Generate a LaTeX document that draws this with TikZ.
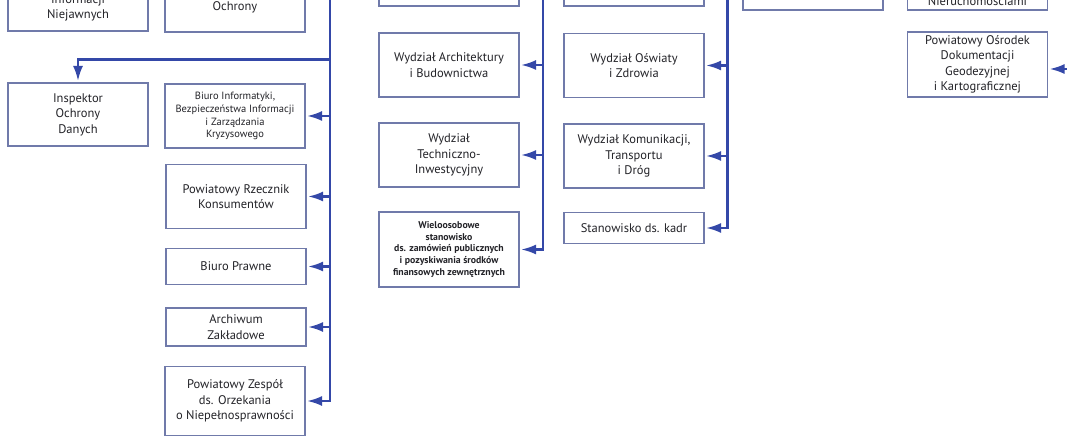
\documentclass[tikz,border=0pt]{standalone}
\usepackage{fontspec}
\setmainfont{PT Sans}
\usetikzlibrary{arrows.meta}
\definecolor{linkblue}{RGB}{52,72,168}
\definecolor{boxline}{RGB}{112,122,170}
\definecolor{boxtext}{RGB}{35,35,40}
\tikzset{
  unit/.style={draw=boxline, line width=1.1pt, fill=white, text=boxtext,
    minimum width=140pt, inner sep=0pt, align=center, font=\fontsize{12.5}{15.5}\selectfont},
  smallunit/.style={unit, font=\fontsize{10.5}{12.8}\selectfont},
  tinyunit/.style={unit, font=\bfseries\fontsize{9.8}{11.8}\selectfont},
  link/.style={draw=linkblue, line width=2.3pt, -{Latex[length=15pt,width=10pt]}, shorten >=1.5pt},
}
\begin{document}
\begin{tikzpicture}[x=1pt, y=-1pt]
	\useasboundingbox[fill=white] (0,0) rectangle (1067,438);
	\clip (0,0) rectangle (1067,438);
	% left column
	\node[unit, minimum height=46pt] (inf) at (78,8) {Informacji\\Niejawnych};
	\node[unit, minimum height=50pt] (och) at (235,7) {Ochrony};
	\node[unit, minimum height=63pt] (iod) at (78,114.5) {Inspektor\\Ochrony\\Danych};
	\node[smallunit, minimum height=64pt] (bizk) at (235,116) {Biuro Informatyki,\\Bezpieczeństwa Informacji\\i Zarządzania\\Kryzysowego};
	\node[unit, minimum height=64pt] (prk) at (236,196.5) {Powiatowy Rzecznik\\Konsumentów};
	\node[unit, minimum height=36pt] (bp) at (236,266.5) {Biuro Prawne};
	\node[unit, minimum height=38pt] (az) at (236,327) {Archiwum\\Zakładowe};
	\node[unit, minimum height=69pt] (pzo) at (235,401) {Powiatowy Zespół\\ds. Orzekania\\o Niepełnosprawności};
	% middle columns
	\node[unit, minimum height=52pt] (wa) at (449,-20) {};
	\node[unit, minimum height=64pt] (wab) at (449,65) {Wydział Architektury\\i Budownictwa};
	\node[unit, minimum height=64pt] (wti) at (449,155) {Wydział\\Techniczno-\\Inwestycyjny};
	\node[tinyunit, minimum height=75pt] (wzp) at (449,249.5) {Wieloosobowe\\stanowisko\\ds. zamówień publicznych\\i pozyskiwania środków\\finansowych zewnętrznych};
	\node[unit, minimum height=52pt] (wb) at (634,-20) {};
	\node[unit, minimum height=64pt] (woz) at (634,65.5) {Wydział Oświaty\\i Zdrowia};
	\node[unit, minimum height=64pt] (wkt) at (634,156) {Wydział Komunikacji,\\Transportu\\i Dróg};
	\node[unit, minimum height=31pt] (kadr) at (634,228) {Stanowisko ds. kadr};
	% right side
	\node[unit, minimum height=50pt] (wc) at (813,-15) {};
	\node[unit, minimum height=18pt] (gn) at (977.5,1) {Nieruchomościami};
	\node[unit, minimum height=65pt] (pod) at (977.5,64.5) {Powiatowy Ośrodek\\Dokumentacji\\Geodezyjnej\\i Kartograficznej};
	% connectors
	\coordinate (ta) at (330,-5);
	\coordinate (ja) at (330,59.5);
	\coordinate (tb) at (543,-5);
	\coordinate (tc) at (727.5,-5);
	\coordinate (tr) at (1075,69);
	\draw[link] (ta) |- (pzo.east);
	\draw[link] (ja) -| (iod.north);
	\foreach \n in {bizk,prk,bp,az}
		\draw[link] (\n.east -| ta) -- (\n.east);
	\draw[link] (tb) |- (wzp.east);
	\foreach \n in {wab,wti}
		\draw[link] (\n.east -| tb) -- (\n.east);
	\draw[link] (tc) |- (kadr.east);
	\foreach \n in {woz,wkt}
		\draw[link] (\n.east -| tc) -- (\n.east);
	\draw[link] (tr) -- (pod.east |- tr);
\end{tikzpicture}
\end{document}
